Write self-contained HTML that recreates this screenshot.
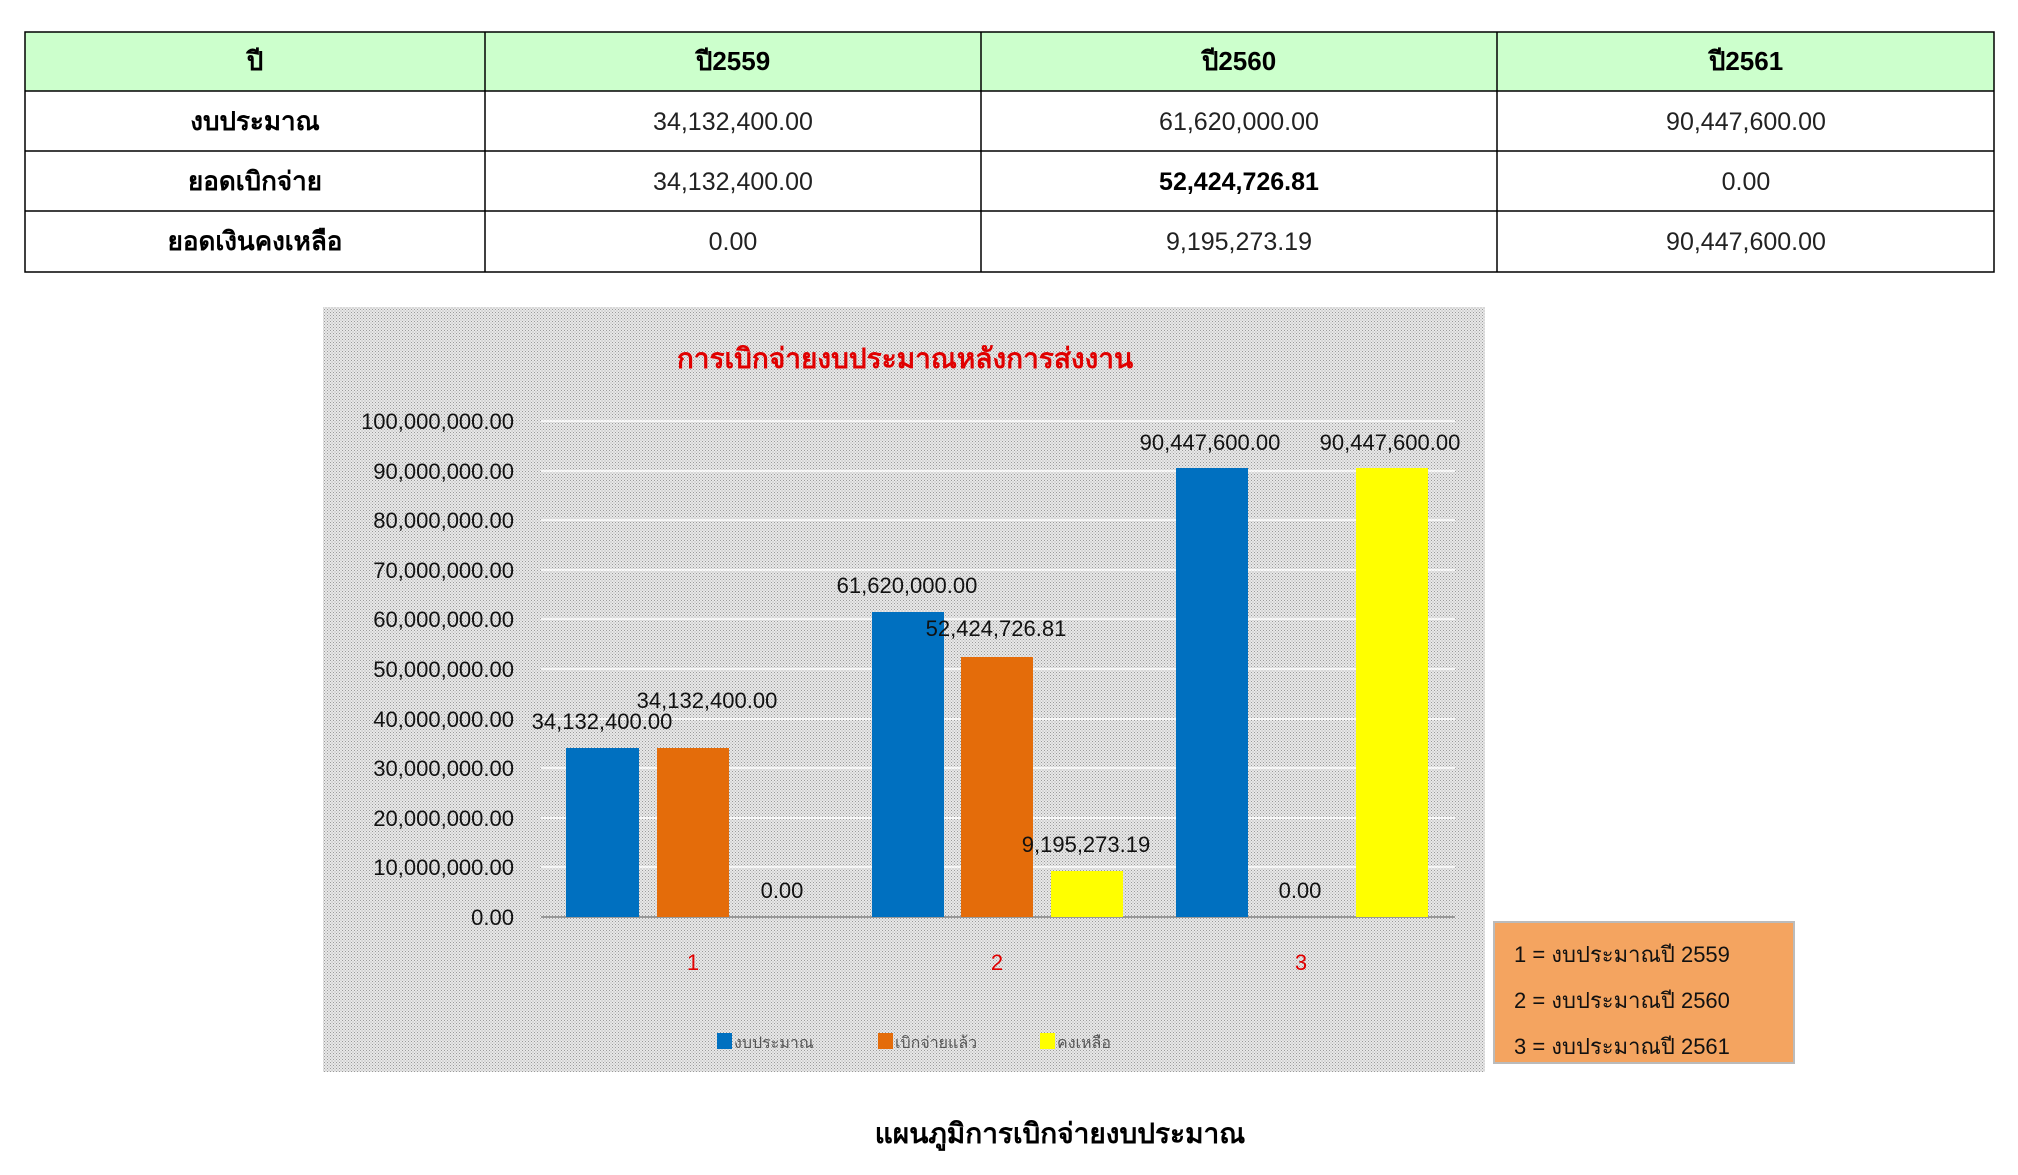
<!DOCTYPE html>
<html><head><meta charset="utf-8"><style>
html,body{margin:0;padding:0;background:#fff;}
body{width:2018px;height:1175px;position:relative;overflow:hidden;font-family:"Liberation Sans","Noto Sans CJK SC",sans-serif;}
</style></head><body>
<svg width="2018" height="1175" xmlns="http://www.w3.org/2000/svg" style="position:absolute;left:0;top:0" font-family="Liberation Sans, Noto Sans CJK SC, sans-serif">
<defs>
<pattern id="dots" width="3" height="3" patternUnits="userSpaceOnUse">
<rect width="3" height="3" fill="#e8e8e8"/>
<rect width="1" height="1" fill="#9a9a9a"/>
<rect x="1" y="1" width="2" height="2" fill="#d8d8d8"/>
</pattern>
</defs>
<!-- table -->
<rect x="25" y="32" width="1969" height="59" fill="#ccffcc"/>
<g stroke="#000" stroke-width="1.5" fill="none">
<rect x="25" y="32" width="1969" height="240"/>
<line x1="25" y1="91" x2="1994" y2="91"/>
<line x1="25" y1="151" x2="1994" y2="151"/>
<line x1="25" y1="211" x2="1994" y2="211"/>
<line x1="485" y1="32" x2="485" y2="272"/>
<line x1="981" y1="32" x2="981" y2="272"/>
<line x1="1497" y1="32" x2="1497" y2="272"/>
</g>
<g font-size="26" font-weight="bold" text-anchor="middle" fill="#000">
<text x="255" y="70">ปี</text>
<text x="733" y="70">ปี2559</text>
<text x="1239" y="70">ปี2560</text>
<text x="1746" y="70">ปี2561</text>
<text x="255" y="130">งบประมาณ</text>
<text x="255" y="190">ยอดเบิกจ่าย</text>
<text x="255" y="250">ยอดเงินคงเหลือ</text>
</g>
<g font-size="25" text-anchor="middle" fill="#222">
<text x="733" y="130">34,132,400.00</text>
<text x="1239" y="130">61,620,000.00</text>
<text x="1746" y="130">90,447,600.00</text>
<text x="733" y="190">34,132,400.00</text>
<text x="1239" y="190" font-weight="bold" fill="#000">52,424,726.81</text>
<text x="1746" y="190">0.00</text>
<text x="733" y="250">0.00</text>
<text x="1239" y="250">9,195,273.19</text>
<text x="1746" y="250">90,447,600.00</text>
</g>
<!-- chart -->
<rect x="323" y="307" width="1162" height="765" fill="url(#dots)"/>
<text x="905" y="368" font-size="28" font-weight="bold" fill="#e00000" text-anchor="middle">การเบิกจ่ายงบประมาณหลังการส่งงาน</text>
<g stroke="#fff" stroke-width="1.5">
<line x1="541" y1="421" x2="1455" y2="421"/><line x1="541" y1="471" x2="1455" y2="471"/>
<line x1="541" y1="520" x2="1455" y2="520"/><line x1="541" y1="570" x2="1455" y2="570"/>
<line x1="541" y1="619" x2="1455" y2="619"/><line x1="541" y1="669" x2="1455" y2="669"/>
<line x1="541" y1="719" x2="1455" y2="719"/><line x1="541" y1="768" x2="1455" y2="768"/>
<line x1="541" y1="818" x2="1455" y2="818"/><line x1="541" y1="867" x2="1455" y2="867"/>
</g>
<line x1="541" y1="917" x2="1455" y2="917" stroke="#999" stroke-width="2"/>
<g font-size="22" text-anchor="end" fill="#111">
<text x="514" y="429">100,000,000.00</text><text x="514" y="479">90,000,000.00</text>
<text x="514" y="528">80,000,000.00</text><text x="514" y="578">70,000,000.00</text>
<text x="514" y="627">60,000,000.00</text><text x="514" y="677">50,000,000.00</text>
<text x="514" y="727">40,000,000.00</text><text x="514" y="776">30,000,000.00</text>
<text x="514" y="826">20,000,000.00</text><text x="514" y="875">10,000,000.00</text>
<text x="514" y="925">0.00</text>
</g>
<rect x="566" y="748" width="73" height="169" fill="#0070c0"/>
<rect x="657" y="748" width="72" height="169" fill="#e46c0a"/>
<rect x="872" y="612" width="72" height="305" fill="#0070c0"/>
<rect x="961" y="657" width="72" height="260" fill="#e46c0a"/>
<rect x="1051" y="871" width="72" height="46" fill="#ffff00"/>
<rect x="1176" y="468" width="72" height="449" fill="#0070c0"/>
<rect x="1356" y="468" width="72" height="449" fill="#ffff00"/>
<g font-size="22" text-anchor="middle" fill="#111">
<text x="602" y="729">34,132,400.00</text>
<text x="707" y="708">34,132,400.00</text>
<text x="782" y="898">0.00</text>
<text x="907" y="593">61,620,000.00</text>
<text x="996" y="636">52,424,726.81</text>
<text x="1086" y="852">9,195,273.19</text>
<text x="1210" y="450">90,447,600.00</text>
<text x="1390" y="450">90,447,600.00</text>
<text x="1300" y="898">0.00</text>
</g>
<g font-size="22" text-anchor="middle" fill="#e00000">
<text x="693" y="970">1</text><text x="997" y="970">2</text><text x="1301" y="970">3</text>
</g>
<rect x="717" y="1033" width="15" height="16" fill="#0070c0"/>
<rect x="878" y="1033" width="15" height="16" fill="#e46c0a"/>
<rect x="1040" y="1033" width="15" height="16" fill="#ffff00"/>
<g font-size="16" fill="#555">
<text x="734" y="1048">งบประมาณ</text><text x="895" y="1048">เบิกจ่ายแล้ว</text><text x="1057" y="1048">คงเหลือ</text>
</g>
<rect x="1494" y="922" width="300" height="141" fill="#f4a460" stroke="#bbb" stroke-width="2"/>
<g font-size="22" fill="#111">
<text x="1514" y="962">1 = งบประมาณปี 2559</text>
<text x="1514" y="1008">2 = งบประมาณปี 2560</text>
<text x="1514" y="1054">3 = งบประมาณปี 2561</text>
</g>
<text x="1060" y="1143" font-size="28" font-weight="bold" text-anchor="middle" fill="#000">แผนภูมิการเบิกจ่ายงบประมาณ</text>
</svg>
</body></html>
